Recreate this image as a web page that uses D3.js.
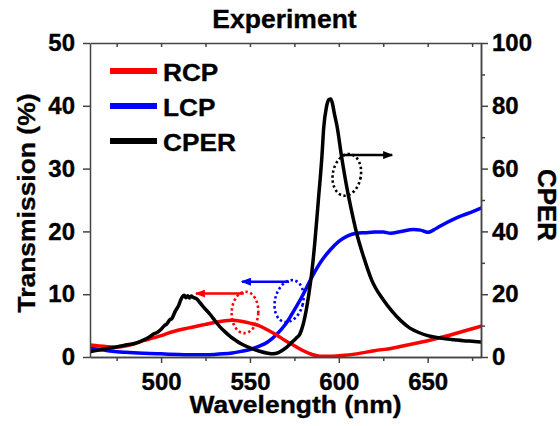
<!DOCTYPE html>
<html>
<head>
<meta charset="utf-8">
<script src="https://cdn.jsdelivr.net/npm/d3@7"></script>
<style>
  html, body { margin: 0; padding: 0; background: #fff; }
  svg text { font-family: "Liberation Sans", Arial, Helvetica, sans-serif; font-weight: bold; fill: #000; stroke: #000; stroke-width: 0.35px; }
</style>
</head>
<body>
<svg id="chart" width="560" height="426"></svg>
<script>
// ---- Measured spectra ----
// RCP transmission (%)
const rcpWavelength = [460, 465, 470, 475, 480, 485, 490, 495, 500, 505, 510, 515, 520, 525, 530, 535, 540, 545, 550, 555, 560, 565, 570, 575, 580, 585, 590, 595, 600, 610, 620, 630, 640, 650, 660, 670, 680];
const rcpTransmission = [1.9, 1.75, 1.65, 1.6, 1.75, 2.1, 2.6, 3.0, 3.4, 3.9, 4.3, 4.6, 4.9, 5.2, 5.5, 5.75, 5.85, 5.7, 5.4, 5.0, 4.3, 3.5, 2.6, 1.8, 1.0, 0.4, 0.1, 0.1, 0.2, 0.5, 1.0, 1.4, 2.0, 2.6, 3.3, 4.1, 4.9];

// LCP transmission (%)
const lcpWavelength = [460, 465, 470, 475, 480, 490, 500, 510, 520, 525, 530, 535, 540, 545, 550, 555, 560, 565, 570, 575, 580, 585, 590, 595, 600, 605, 610, 615, 620, 625, 629, 635, 642, 646, 650, 655, 660, 665, 670, 675, 680];
const lcpTransmission = [1.4, 1.2, 1.0, 0.85, 0.75, 0.6, 0.5, 0.4, 0.35, 0.35, 0.4, 0.5, 0.65, 0.9, 1.2, 1.7, 2.4, 3.6, 5.2, 7.5, 10.0, 12.8, 15.2, 17.0, 18.4, 19.3, 19.7, 19.8, 19.9, 19.9, 19.7, 20.0, 20.3, 20.2, 19.85, 20.5, 21.3, 22.0, 22.6, 23.1, 23.7];

// Circular polarization extinction ratio
const cperWavelength = [460, 465, 470, 475, 480, 485, 488, 491, 494, 496, 498, 500, 502, 503, 505, 506, 508, 510, 511, 512, 513, 514, 515, 516, 517, 518, 520, 522, 525, 527, 530, 533, 536, 539, 542, 545, 550, 555, 560, 563, 566, 570, 573, 576, 578, 580, 582, 584, 585, 586.5, 588.5, 590.5, 591.5, 593, 594.5, 595.5, 596.5, 597.5, 599, 601.5, 604.5, 607, 610, 614, 618.5, 625, 630, 635, 640, 645, 650, 655, 660, 665, 670, 675, 680];
const cperValue = [1.7, 2.2, 2.7, 3.2, 3.8, 4.3, 4.9, 5.6, 6.6, 7.4, 7.9, 8.8, 10.1, 10.4, 11.9, 12.2, 14.6, 16.6, 18.1, 19.2, 19.7, 18.9, 19.5, 18.8, 19.4, 19.0, 18.5, 17.2, 15.2, 14.0, 11.8, 9.7, 8.0, 6.5, 5.3, 4.2, 2.9, 1.9, 1.2, 1.0, 1.4, 2.8, 4.4, 6.0, 7.2, 10.5, 16.0, 23.5, 28.0, 36.5, 50.0, 64.0, 73.0, 79.5, 82.0, 82.2, 80.5, 77.5, 73.5, 64.0, 54.0, 47.0, 39.5, 31.8, 24.5, 18.2, 14.5, 11.5, 9.2, 7.8, 6.8, 6.2, 5.8, 5.5, 5.2, 5.0, 4.8];

// ---- Axis ticks ----
const xMajorTicks = [500, 550, 600, 650];
const xMinorTicks = [475, 525, 575, 625, 675];
const leftTicks = [0, 10, 20, 30, 40, 50];
const rightMajorTicks = [0, 20, 40, 60, 80, 100];
const rightMinorTicks = [10, 30, 50, 70, 90];

// ---- Legend ----
const seriesNames = ["RCP", "LCP", "CPER"];
const seriesColors = ["#ff0000", "#0000ff", "#000000"];

// ---- Axis-pointer annotations (wavelength, value on the axis each curve uses) ----
const pointerColors = ["#ff0000", "#0000ff", "#000000"];
const pointerAxis = ["left", "left", "right"];
const pointerStart = [546.5, 572.0, 600.7];
const pointerEnd = [519.6, 545.5, 630.0];
const pointerLevel = [10.1, 12.0, 64.3];
const ringCenterX = [547.2, 572.0, 604.5];
const ringCenterY = [7.1, 8.9, 58.0];
const ringHalfWidth = [7.5, 7.9, 7.9];   // nm
const ringHalfHeight = [3.3, 3.4, 6.7];  // axis units
const ringTilt = [3, 14, 10];

// ---- Layout ----
const plot = { left: 90, right: 481, top: 43, bottom: 357 };
const svg = d3.select("#chart");

const x = d3.scaleLinear().domain([460, 680]).range([plot.left, plot.right]);
const yLeft = d3.scaleLinear().domain([0, 50]).range([plot.bottom, plot.top]);
const yRight = d3.scaleLinear().domain([0, 100]).range([plot.bottom, plot.top]);

svg.append("defs").append("clipPath").attr("id", "plotClip")
  .append("rect")
  .attr("x", plot.left).attr("y", plot.top)
  .attr("width", plot.right - plot.left).attr("height", plot.bottom - plot.top);

// ---- Curves ----
const curves = svg.append("g").attr("clip-path", "url(#plotClip)");
function drawCurve(xs, ys, yScale, color) {
  const pts = xs.map((d, i) => [d, ys[i]]);
  const line = d3.line()
    .x(d => x(d[0]))
    .y(d => yScale(d[1]))
    .curve(d3.curveMonotoneX);
  curves.append("path")
    .datum(pts)
    .attr("d", line)
    .attr("fill", "none")
    .attr("stroke", color)
    .attr("stroke-width", 3.5)
    .attr("stroke-linejoin", "round")
    .attr("stroke-linecap", "round");
}
drawCurve(lcpWavelength, lcpTransmission, yLeft, seriesColors[1]);
drawCurve(rcpWavelength, rcpTransmission, yLeft, seriesColors[0]);
drawCurve(cperWavelength, cperValue, yRight, seriesColors[2]);

// ---- Pointer arrows and dotted rings ----
const defs = svg.select("defs");
pointerColors.forEach((c, i) => {
  defs.append("marker")
    .attr("id", "head" + i)
    .attr("viewBox", "0 0 10 8")
    .attr("refX", 9).attr("refY", 4)
    .attr("markerWidth", 10).attr("markerHeight", 8)
    .attr("markerUnits", "userSpaceOnUse")
    .attr("orient", "auto")
    .append("path")
    .attr("d", "M0,0 L10,4 L0,8 Z")
    .attr("fill", c);
});
const notes = svg.append("g");
pointerColors.forEach((c, i) => {
  const ys = pointerAxis[i] === "left" ? yLeft : yRight;
  notes.append("line")
    .attr("x1", x(pointerStart[i])).attr("x2", x(pointerEnd[i]))
    .attr("y1", ys(pointerLevel[i])).attr("y2", ys(pointerLevel[i]))
    .attr("stroke", c).attr("stroke-width", 2.5)
    .attr("marker-end", "url(#head" + i + ")");
  const cx = x(ringCenterX[i]), cy = ys(ringCenterY[i]);
  notes.append("ellipse")
    .attr("cx", cx).attr("cy", cy)
    .attr("rx", x(ringCenterX[i] + ringHalfWidth[i]) - cx)
    .attr("ry", cy - ys(ringCenterY[i] + ringHalfHeight[i]))
    .attr("transform", `rotate(${ringTilt[i]},${cx},${cy})`)
    .attr("fill", "none")
    .attr("stroke", c).attr("stroke-width", 2.6)
    .attr("stroke-dasharray", "2.4,2.6");
});

// ---- Axes ----
const axisColor = "#444";
function styleAxis(g) {
  g.selectAll(".domain").attr("stroke", axisColor).attr("stroke-width", 1.5);
  g.selectAll(".tick line").attr("stroke", axisColor).attr("stroke-width", 1.5);
  g.selectAll(".tick text").attr("font-size", 24).attr("fill", "#000")
    .attr("font-family", '"Liberation Sans", Arial, sans-serif').attr("font-weight", "bold");
}

svg.append("g").attr("transform", `translate(0,${plot.bottom})`)
  .call(d3.axisBottom(x).tickValues(xMajorTicks).tickSize(6).tickSizeOuter(0).tickPadding(10).tickFormat(d3.format("d")))
  .call(styleAxis);
svg.append("g").attr("transform", `translate(0,${plot.bottom})`)
  .call(d3.axisBottom(x).tickValues(xMinorTicks).tickSize(4).tickSizeOuter(0).tickFormat(""))
  .call(styleAxis);
svg.append("g").attr("transform", `translate(0,${plot.top})`)
  .call(d3.axisTop(x).tickValues(xMajorTicks.concat(xMinorTicks)).tickSize(-4).tickSizeOuter(0).tickFormat(""))
  .call(styleAxis);
svg.append("g").attr("transform", `translate(${plot.left},0)`)
  .call(d3.axisLeft(yLeft).tickValues(leftTicks).tickSize(7).tickSizeOuter(0).tickPadding(8).tickFormat(d3.format("d")))
  .call(styleAxis);
svg.append("g").attr("transform", `translate(${plot.right},0)`)
  .call(d3.axisRight(yRight).tickValues(rightMajorTicks).tickSize(7).tickSizeOuter(0).tickPadding(4).tickFormat(d3.format("d")))
  .call(styleAxis);
svg.append("g").attr("transform", `translate(${plot.right},0)`)
  .call(d3.axisRight(yRight).tickValues(rightMinorTicks).tickSize(4).tickSizeOuter(0).tickFormat(""))
  .call(styleAxis);

// ---- Titles ----
function label(txt, tx, ty, rot, size, stretch) {
  svg.append("text")
    .attr("transform", `translate(${tx},${ty}) rotate(${rot}) scale(${stretch},1)`)
    .attr("text-anchor", "middle")
    .attr("font-size", size)
    .text(txt);
}
label("Experiment", 284.5, 28, 0, 25, 1.06);
label("Wavelength (nm)", 295.5, 413, 0, 24.5, 1.08);
label("Transmission (%)", 35, 203, -90, 24.5, 1.08);
label("CPER", 538, 205, 90, 25.5, 1.02);

// ---- Legend ----
const legend = svg.append("g");
seriesNames.forEach((name, i) => {
  const cy = 71 + i * 35;
  legend.append("line")
    .attr("x1", 110).attr("x2", 157)
    .attr("y1", cy).attr("y2", cy)
    .attr("stroke", seriesColors[i]).attr("stroke-width", 6);
  legend.append("text")
    .attr("transform", `translate(163,${cy + 9.5}) scale(1.07,1)`)
    .attr("font-size", 24.5)
    .text(name);
});
</script>
</body>
</html>
